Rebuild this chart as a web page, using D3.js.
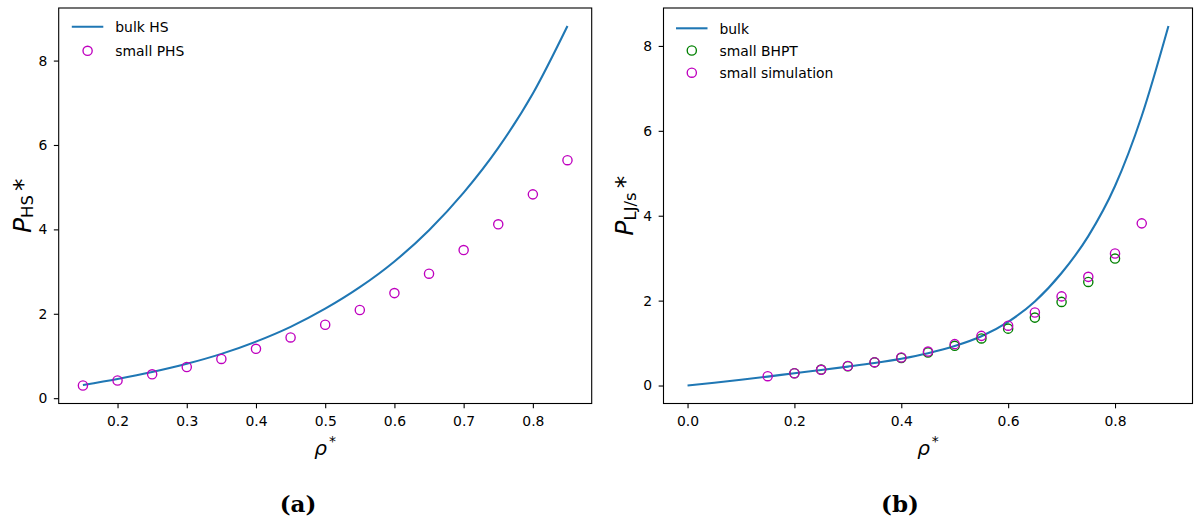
<!DOCTYPE html>
<html>
<head>
<meta charset="utf-8">
<script src="https://cdn.jsdelivr.net/npm/d3@7"></script>
<style>
  body { margin: 0; background: #fff; }
  svg text { font-family: "DejaVu Sans", sans-serif; fill: #000; }
</style>
</head>
<body>
<svg id="fig" width="1196" height="526"></svg>
<script>
// ---- panel (a): hard-sphere pressure ----
const rhoBulkHS = [0.15, 0.20, 0.25, 0.30, 0.35, 0.40, 0.45, 0.50, 0.55, 0.60, 0.65, 0.70, 0.75, 0.80, 0.85];
const pBulkHS   = [0.31, 0.455, 0.62, 0.815, 1.05, 1.34, 1.69, 2.12, 2.63, 3.24, 3.98, 4.87, 5.93, 7.22, 8.82];
const rhoSmallPHS = [0.15, 0.20, 0.25, 0.30, 0.35, 0.40, 0.45, 0.50, 0.55, 0.60, 0.65, 0.70, 0.75, 0.80, 0.85];
const pSmallPHS   = [0.30, 0.42, 0.565, 0.74, 0.93, 1.17, 1.44, 1.74, 2.09, 2.49, 2.95, 3.51, 4.12, 4.83, 5.64];

// ---- panel (b): LJ/s pressure ----
const rhoBulkLJ = [0, 0.05, 0.10, 0.15, 0.20, 0.25, 0.30, 0.35, 0.40, 0.45, 0.50, 0.55, 0.60, 0.65, 0.70, 0.75, 0.80, 0.85, 0.90];
const pBulkLJ   = [0, 0.065, 0.135, 0.21, 0.29, 0.365, 0.445, 0.53, 0.63, 0.76, 0.93, 1.16, 1.50, 1.98, 2.65, 3.52, 4.70, 6.35, 8.47];
const rhoBHPT = [0.20, 0.25, 0.30, 0.35, 0.40, 0.45, 0.50, 0.55, 0.60, 0.65, 0.70, 0.75, 0.80];
const pBHPT   = [0.29, 0.375, 0.455, 0.545, 0.65, 0.78, 0.935, 1.11, 1.34, 1.60, 1.97, 2.44, 2.99];
const rhoSim = [0.15, 0.20, 0.25, 0.30, 0.35, 0.40, 0.45, 0.50, 0.55, 0.60, 0.65, 0.70, 0.75, 0.80, 0.85];
const pSim   = [0.22, 0.29, 0.37, 0.46, 0.55, 0.66, 0.80, 0.975, 1.17, 1.41, 1.72, 2.10, 2.56, 3.11, 3.82];

// ---- ticks ----
const xTicksA = [0.2, 0.3, 0.4, 0.5, 0.6, 0.7, 0.8];
const xTicksB = [0.0, 0.2, 0.4, 0.6, 0.8];
const yTicks  = [0, 2, 4, 6, 8];

const BLUE = "#1f77b4", MAGENTA = "#bf00bf", GREEN = "#008000";
const FS = 13.9;           // tick / legend font size
const TICK = 4.86;         // tick length

const svg = d3.select("#fig");
svg.append("rect").attr("width", 1196).attr("height", 526).attr("fill", "#fff");

// pad an extent by 5 % on both sides
function padded(vals) {
  const [lo, hi] = d3.extent(vals);
  const m = (hi - lo) * 0.05;
  return [lo - m, hi + m];
}
const zip = (xs, ys) => xs.map((x, i) => [x, ys[i]]);

function panel(cfg) {
  const { left, right, top, bottom } = cfg.box;
  const allX = cfg.lines.flatMap(l => l.x).concat(cfg.points.flatMap(p => p.x));
  const allY = cfg.lines.flatMap(l => l.y).concat(cfg.points.flatMap(p => p.y));
  const x = d3.scaleLinear().domain(padded(allX)).range([left, right]);
  const y = d3.scaleLinear().domain(padded(allY)).range([bottom, top]);

  const g = svg.append("g");

  // axes
  const xa = g.append("g").attr("transform", `translate(0,${bottom})`)
    .call(d3.axisBottom(x).tickValues(cfg.xTicks).tickFormat(d3.format(".1f"))
      .tickSize(TICK).tickPadding(8));
  const ya = g.append("g").attr("transform", `translate(${left},0)`)
    .call(d3.axisLeft(y).tickValues(yTicks).tickFormat(d3.format("d"))
      .tickSize(TICK).tickPadding(6.5));
  [xa, ya].forEach(a => {
    a.select(".domain").remove();
    a.selectAll(".tick line").attr("stroke", "#000").attr("stroke-width", 1.1);
    a.selectAll(".tick text").attr("font-size", FS).attr("font-family", "DejaVu Sans");
  });

  // data
  const line = d3.line().x(d => x(d[0])).y(d => y(d[1])).curve(d3.curveMonotoneX);
  cfg.lines.forEach(l => {
    g.append("path").datum(zip(l.x, l.y))
      .attr("d", line).attr("fill", "none")
      .attr("stroke", l.color).attr("stroke-width", 2.08);
  });
  cfg.points.forEach(p => {
    g.append("g").selectAll("circle").data(zip(p.x, p.y)).join("circle")
      .attr("cx", d => x(d[0])).attr("cy", d => y(d[1])).attr("r", 4.6)
      .attr("fill", "none").attr("stroke", p.color).attr("stroke-width", 1.35);
  });

  // frame
  g.append("rect").attr("x", left).attr("y", top)
    .attr("width", right - left).attr("height", bottom - top)
    .attr("fill", "none").attr("stroke", "#000").attr("stroke-width", 1.1);

  // legend
  const lg = cfg.legend;
  lg.rows.forEach((r, i) => {
    const cy = lg.y[i];
    if (r.kind === "line") {
      g.append("line").attr("x1", lg.x).attr("x2", lg.x + 31.5)
        .attr("y1", cy).attr("y2", cy)
        .attr("stroke", r.color).attr("stroke-width", 2.08);
    } else {
      g.append("circle").attr("cx", lg.x + 15.8).attr("cy", cy).attr("r", 4.6)
        .attr("fill", "none").attr("stroke", r.color).attr("stroke-width", 1.35);
    }
    g.append("text").attr("x", lg.x + 43.5).attr("y", cy + 5.5)
      .attr("font-size", FS).text(r.label);
  });

  // x label  ρ*
  const cx = (left + right) / 2;
  const xl = g.append("text").attr("x", cx).attr("y", 455).attr("text-anchor", "middle")
    .attr("font-size", 20);
  xl.append("tspan").attr("font-style", "italic").text("ρ");
  xl.append("tspan").attr("font-size", 14).attr("dy", -9).attr("dx", 2).text("*");

  // y label  P_sub *
  const cy = (top + bottom) / 2;
  const yl = g.append("text")
    .attr("transform", `translate(${cfg.ylabelX},${cy}) rotate(-90)`)
    .attr("text-anchor", "middle").attr("font-size", 25);
  yl.append("tspan").attr("font-style", "italic").text("P");
  yl.append("tspan").attr("font-size", 16.5).attr("dy", 2.5).text(cfg.sub);
  yl.append("tspan").attr("dy", -2.5).attr("dx", 4).text("*");

  // caption
  svg.append("text").attr("x", cfg.captionX).attr("y", 512)
    .attr("text-anchor", "middle").attr("font-size", 23)
    .attr("font-weight", "bold")
    .style("font-family", "'DejaVu Serif', serif")
    .text(cfg.caption);
}

panel({
  box: { left: 58.7, right: 591.7, top: 8, bottom: 403.5 },
  xTicks: xTicksA,
  lines: [{ x: rhoBulkHS, y: pBulkHS, color: BLUE }],
  points: [{ x: rhoSmallPHS, y: pSmallPHS, color: MAGENTA }],
  legend: { x: 71.8, y: [26.7, 50.8], rows: [
    { kind: "line", color: BLUE, label: "bulk HS" },
    { kind: "marker", color: MAGENTA, label: "small PHS" }] },
  sub: "HS", ylabelX: 30.5, caption: "(a)", captionX: 298
});

panel({
  box: { left: 663.5, right: 1192.5, top: 8, bottom: 403.5 },
  xTicks: xTicksB,
  lines: [{ x: rhoBulkLJ, y: pBulkLJ, color: BLUE }],
  points: [{ x: rhoBHPT, y: pBHPT, color: GREEN }, { x: rhoSim, y: pSim, color: MAGENTA }],
  legend: { x: 676, y: [28.3, 50.5, 72.7], rows: [
    { kind: "line", color: BLUE, label: "bulk" },
    { kind: "marker", color: GREEN, label: "small BHPT" },
    { kind: "marker", color: MAGENTA, label: "small simulation" }] },
  sub: "LJ/s", ylabelX: 633, caption: "(b)", captionX: 900
});
</script>
</body>
</html>
